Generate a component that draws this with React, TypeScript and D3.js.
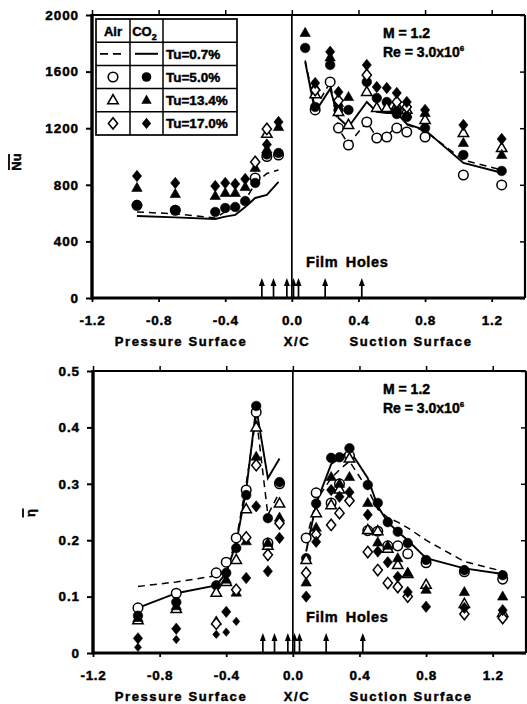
import React, { useRef, useEffect } from "react";
import * as d3 from "d3";

// measurement stations, X/C
const pressureX = [-0.93, -0.7, -0.46, -0.4, -0.34, -0.28, -0.22, -0.15, -0.08];
const suctionX = [0.08, 0.14, 0.23, 0.28, 0.34, 0.45, 0.51, 0.57, 0.63, 0.69, 0.8, 1.03, 1.26];
const filmHoleX = [-0.18, -0.11, -0.03, 0.01, 0.04, 0.2, 0.42];
const xTicks = [-1.2, -0.8, -0.4, 0.0, 0.4, 0.8, 1.2];
const nuTicks = [0, 400, 800, 1200, 1600, 2000];
const etaTicks = [0, 0.1, 0.2, 0.3, 0.4, 0.5];
const tuLabels = ["Tu=0.7%", "Tu=5.0%", "Tu=13.4%", "Tu=17.0%"];

// ---- Nu (top) ----
const nuAir07PS = [608, 595, 565, 610, 640, 690, 810, 880, 905];
const nuCo207PS = [580, 570, 558, 575, 587, 643, 707, 728, 820];
const nuAir07SS = [1680, 1340, 1525, 1200, 1085, 1245, 1135, 1140, 1220, 1225, 1180, 975, 905];
const nuCo207SS = [1670, 1315, 1478, 1272, 1208, 1385, 1315, 1307, 1307, 1230, 1187, 954, 885];

const nuAir5PS = [655, 620, null, null, null, null, 848, 1000, 1010];
const nuCo25PS = [657, 622, 608, 636, 643, 685, 813, 1015, 1025];
const nuAir13PS = [null, null, null, null, null, null, null, 1160, null];
const nuCo213PS = [778, 735, 721, 742, 742, 784, 919, 1050, 1208];
const nuAir17PS = [null, null, null, null, null, null, 961, 1195, null];
const nuCo217PS = [862, 813, 791, 813, 806, 841, null, 1085, 1244];

const nuAir5SS = [null, 1329, 1527, 1201, 1081, 1244, 1131, 1138, 1201, 1173, 1138, 869, 799];
const nuCo25SS = [1767, 1350, 1647, 1329, 1329, 1527, 1413, 1385, 1300, 1279, 1201, 1011, 898];
const nuAir13SS = [null, 1440, null, 1315, 1223, 1456, 1343, 1343, 1360, 1330, 1258, 1166, 1060];
const nuCo213SS = [1873, 1491, 1700, 1378, 1420, null, null, null, 1343, 1300, 1307, 1095, 1011];
const nuAir17SS = [null, 1470, null, 1395, null, 1576, null, null, 1385, 1350, null, null, null];
const nuCo217SS = [null, 1519, 1740, 1456, null, 1647, 1491, 1484, 1449, 1385, 1329, 1223, 1124];

// ---- effectiveness (bottom) ----
const etaAir07PS = [0.118, 0.126, 0.137, 0.148, 0.2, 0.3, 0.42, 0.245, 0.285];
const etaCo207PS = [0.08, 0.106, 0.12, 0.142, 0.195, 0.289, 0.435, 0.31, 0.345];
const etaAir07SS = [0.2, 0.27, 0.31, 0.325, 0.34, 0.29, 0.255, 0.24, 0.232, 0.222, 0.2, 0.162, 0.145];
const etaCo207SS = [0.18, 0.265, 0.335, 0.345, 0.36, 0.31, 0.26, 0.232, 0.215, 0.2, 0.168, 0.15, 0.14];

const etaAir5PS = [0.08, 0.106, 0.142, 0.161, 0.204, 0.289, 0.427, 0.195, 0.3];
const etaCo25PS = [0.066, 0.09, 0.12, 0.142, 0.186, 0.28, 0.438, 0.239, 0.303];
const etaAir13PS = [0.058, 0.078, 0.107, 0.126, 0.165, 0.255, 0.4, 0.19, 0.265];
const etaCo213PS = [0.062, 0.083, 0.056, 0.13, 0.107, 0.198, 0.348, 0.195, 0.24];
const etaAir17PS = [null, null, 0.052, null, 0.112, 0.205, 0.333, 0.174, 0.23];
const etaCo217PS = [0.026, 0.043, null, 0.073, null, 0.133, 0.26, 0.145, 0.204];
const etaCo217LowPS = [0.01, 0.024, 0.033, 0.037, 0.056, null, null, null, null];

const etaAir5SS = [0.204, 0.284, 0.266, 0.3, 0.35, 0.217, 0.216, 0.19, 0.19, 0.176, 0.16, 0.144, 0.131];
const etaCo25SS = [0.168, 0.265, 0.346, 0.347, 0.363, 0.298, 0.266, 0.232, 0.215, 0.195, 0.165, 0.147, 0.138];
const etaAir13SS = [0.165, 0.248, 0.262, 0.29, 0.345, 0.218, 0.216, 0.185, 0.156, 0.14, 0.121, 0.087, 0.071];
const etaCo213SS = [0.125, 0.222, 0.312, 0.3, 0.312, 0.266, 0.196, 0.19, 0.168, 0.142, 0.112, 0.108, 0.1];
const etaAir17SS = [0.142, 0.21, 0.227, 0.248, 0.27, 0.179, 0.147, 0.124, 0.117, 0.1, null, 0.069, 0.062];
const etaCo217SS = [0.1, 0.197, 0.289, 0.277, 0.285, 0.245, 0.18, 0.161, 0.135, 0.108, 0.082, 0.08, 0.076];

const FONT = "'Liberation Sans', Arial, Helvetica, sans-serif";
const HEAVY = 0.45; // extra stroke on text, the scan prints very heavy

const triangle = {
  draw(ctx: any) {
    ctx.moveTo(0, -5.6);
    ctx.lineTo(5.2, 3.5);
    ctx.lineTo(-5.2, 3.5);
    ctx.closePath();
  },
};
const diamond = {
  draw(ctx: any) {
    ctx.moveTo(0, -5.7);
    ctx.lineTo(4.6, 0);
    ctx.lineTo(0, 5.7);
    ctx.lineTo(-4.6, 0);
    ctx.closePath();
  },
};
const smallDiamond = {
  draw(ctx: any) {
    ctx.moveTo(0, -4.2);
    ctx.lineTo(3.5, 0);
    ctx.lineTo(0, 4.2);
    ctx.lineTo(-3.5, 0);
    ctx.closePath();
  },
};
const circle = d3.symbolCircle;

const sym = (type: any) => d3.symbol().type(type).size(72)() as string;

const heavy = (sel: any) => sel.attr("stroke", "#000").attr("stroke-width", HEAVY);

const drawPanel = (root: any, p: any) => {
  const g = root.append("g");
  const x = d3.scaleLinear().domain([-1.2, 1.4]).range([p.left, p.right]);
  const y = d3.scaleLinear().domain(p.yDomain).range([p.bottom, p.top]);

  // y axis (outward ticks)
  const ya = g
    .append("g")
    .attr("transform", `translate(${p.left},0)`)
    .call(d3.axisLeft(y).tickValues(p.yTicks).tickSize(6).tickPadding(7).tickFormat(p.yFmt));
  ya.select(".domain").remove();
  ya.selectAll("line").attr("stroke-width", 2);
  ya.selectAll("text")
    .attr("font-family", FONT)
    .attr("font-weight", "bold")
    .attr("font-size", 13.5)
    .attr("letter-spacing", 0.9)
    .attr("fill", "#000")
    .call(heavy);

  // right side inward ticks
  const ra = g
    .append("g")
    .attr("transform", `translate(${p.right},0)`)
    .call(d3.axisLeft(y).tickValues(p.yTicks).tickSize(5).tickFormat(() => ""));
  ra.select(".domain").remove();
  ra.selectAll("line").attr("stroke-width", 1.5);

  // x axis
  const xa = g
    .append("g")
    .attr("transform", `translate(0,${p.bottom})`)
    .call(d3.axisBottom(x).tickValues(xTicks).tickSize(4).tickFormat((d: any) => d.toFixed(1)));
  xa.select(".domain").remove();
  xa.selectAll("line").attr("stroke-width", 1.8);
  xa.selectAll("text")
    .attr("y", 27)
    .attr("dy", null)
    .attr("font-family", FONT)
    .attr("font-weight", "bold")
    .attr("font-size", 13.5)
    .attr("letter-spacing", 0.7)
    .attr("fill", "#000")
    .call(heavy);

  const ta = g
    .append("g")
    .attr("transform", `translate(0,${p.top})`)
    .call(d3.axisTop(x).tickValues(xTicks).tickSize(5).tickFormat(() => ""));
  ta.select(".domain").remove();
  ta.selectAll("line").attr("stroke-width", 1.5);

  // frame
  const frame = (x1: number, y1: number, x2: number, y2: number, w: number) =>
    g.append("line").attr("x1", x1).attr("y1", y1).attr("x2", x2).attr("y2", y2).attr("stroke", "#000").attr("stroke-width", w);
  frame(p.left, p.top, p.right, p.top, 2.2);
  frame(p.right, p.top, p.right, p.bottom, 2.2);
  frame(p.left, p.bottom, p.right, p.bottom, 3.2);
  frame(p.left, p.top - 1, p.left, p.bottom + 1.5, 3.4);
  frame(x(0), p.top, x(0), p.bottom, 1.7);

  // axis titles
  const title = (tx: number, s: string) =>
    g.append("text")
      .attr("x", tx)
      .attr("y", p.bottom + 48)
      .attr("text-anchor", "middle")
      .attr("font-family", FONT)
      .attr("font-weight", "bold")
      .attr("font-size", 13)
      .attr("letter-spacing", 1.6)
      .call(heavy)
      .text(s);
  title(181, "Pressure Surface");
  title(297, "X/C");
  title(411, "Suction Surface");

  // y label with overbar
  const yl = g.append("g").attr("transform", `translate(${p.ylabelX},${p.ylabelY}) rotate(-90)`);
  yl.append("text")
    .attr("text-anchor", "middle")
    .attr("font-family", FONT)
    .attr("font-weight", "bold")
    .attr("font-size", 13)
    .call(heavy)
    .text(p.ylabel);
  yl.append("line")
    .attr("x1", -p.ylabelW / 2)
    .attr("x2", p.ylabelW / 2)
    .attr("y1", -12)
    .attr("y2", -12)
    .attr("stroke", "#000")
    .attr("stroke-width", 1.8);

  // lines
  const line = d3
    .line<any>()
    .defined((d) => d[1] != null)
    .x((d) => x(d[0]))
    .y((d) => y(d[1]));
  p.lines.forEach((l: any) => {
    [
      [pressureX, l.ps],
      [suctionX, l.ss],
    ].forEach(([xs, vs]: any) => {
      g.append("path")
        .attr("d", line(xs.map((xv: number, i: number) => [xv, vs[i]])))
        .attr("fill", "none")
        .attr("stroke", "#000")
        .attr("stroke-width", l.dash ? 1.5 : 1.9)
        .attr("stroke-dasharray", l.dash ? "7,5" : null);
    });
  });

  // markers
  p.series.forEach((s: any) => {
    const pts = [
      ...pressureX.map((xv, i) => [xv, s.ps ? s.ps[i] : null]),
      ...suctionX.map((xv, i) => [xv, s.ss ? s.ss[i] : null]),
    ].filter((d) => d[1] != null);
    g.append("g")
      .selectAll("path")
      .data(pts)
      .join("path")
      .attr("d", sym(s.type))
      .attr("transform", (d: any) => `translate(${x(d[0])},${y(d[1])})`)
      .attr("fill", s.filled ? "#000" : "#fff")
      .attr("stroke", "#000")
      .attr("stroke-width", s.filled ? 0.6 : 1.5);
  });

  // film hole arrows
  const ag = g.append("g");
  filmHoleX.forEach((fx) => {
    const ax = x(fx);
    ag.append("line")
      .attr("x1", ax)
      .attr("x2", ax)
      .attr("y1", p.bottom)
      .attr("y2", p.bottom - 14)
      .attr("stroke", "#000")
      .attr("stroke-width", 1.7);
    ag.append("path")
      .attr("d", `M${ax - 3},${p.bottom - 12} L${ax},${p.bottom - 20} L${ax + 3},${p.bottom - 12} Z`)
      .attr("fill", "#000");
  });
  g.append("text")
    .attr("x", 306)
    .attr("y", p.bottom - 31)
    .attr("font-family", FONT)
    .attr("font-weight", "bold")
    .attr("font-size", 14.5)
    .attr("letter-spacing", 0.6)
    .attr("word-spacing", 3)
    .call(heavy)
    .text("Film Holes");

  // flow conditions
  const cond = g
    .append("g")
    .attr("font-family", FONT)
    .attr("font-weight", "bold")
    .attr("font-size", 14)
    .call(heavy);
  cond.append("text").attr("x", 383).attr("y", p.top + 23).text("M = 1.2");
  const re = cond.append("text").attr("x", 383).attr("y", p.top + 42);
  re.append("tspan").text("Re = 3.0x10");
  re.append("tspan").attr("dy", -6).attr("font-size", 8).text("6");

  return g;
};

const drawLegend = (root: any) => {
  const lg = root.append("g").attr("font-family", FONT);
  const L = 96,
    T = 19,
    R = 237,
    B = 135;
  const cols = [L, 130, 163, R];
  const rows = d3.range(6).map((i) => T + (i * (B - T)) / 5);
  lg.append("rect")
    .attr("x", L)
    .attr("y", T)
    .attr("width", R - L)
    .attr("height", B - T)
    .attr("fill", "#fff")
    .attr("stroke", "#000")
    .attr("stroke-width", 1.7);
  cols.slice(1, 3).forEach((cx) =>
    lg.append("line").attr("x1", cx).attr("x2", cx).attr("y1", T).attr("y2", B).attr("stroke", "#000").attr("stroke-width", 1.5)
  );
  rows.slice(1, 5).forEach((ry) =>
    lg.append("line").attr("x1", L).attr("x2", R).attr("y1", ry).attr("y2", ry).attr("stroke", "#000").attr("stroke-width", 1.5)
  );
  const c1 = (cols[0] + cols[1]) / 2;
  const c2 = (cols[1] + cols[2]) / 2;
  const rc = (i: number) => (rows[i] + rows[i + 1]) / 2;
  lg.append("text").attr("x", c1).attr("y", rc(0) + 5).attr("text-anchor", "middle").attr("font-weight", "bold").attr("font-size", 13).call(heavy).text("Air");
  const co = lg
    .append("text")
    .attr("x", c2 - 2)
    .attr("y", rc(0) + 5)
    .attr("text-anchor", "middle")
    .attr("font-weight", "bold")
    .attr("font-size", 13)
    .call(heavy);
  co.append("tspan").text("CO");
  co.append("tspan").attr("dy", 4).attr("font-size", 9).text("2");

  lg.append("line").attr("x1", L + 4).attr("x2", cols[1] - 4).attr("y1", rc(1)).attr("y2", rc(1)).attr("stroke", "#000").attr("stroke-width", 1.7).attr("stroke-dasharray", "8,5");
  lg.append("line").attr("x1", cols[1] + 5).attr("x2", cols[2] - 5).attr("y1", rc(1)).attr("y2", rc(1)).attr("stroke", "#000").attr("stroke-width", 2);

  [circle, triangle, diamond].forEach((t, i) => {
    lg.append("path").attr("d", sym(t)).attr("transform", `translate(${c1},${rc(i + 2)})`).attr("fill", "#fff").attr("stroke", "#000").attr("stroke-width", 1.6);
    lg.append("path").attr("d", sym(t)).attr("transform", `translate(${c2},${rc(i + 2)})`).attr("fill", "#000");
  });
  tuLabels.forEach((t, i) =>
    lg.append("text").attr("x", 166).attr("y", rc(i + 1) + 5).attr("font-weight", "bold").attr("font-size", 13.5).call(heavy).text(t)
  );
};

const App = () => {
  const svgRef = useRef<SVGSVGElement>(null);

  useEffect(() => {
    const svg = d3.select(svgRef.current);
    svg.selectAll("*").remove();

    drawPanel(svg, {
      left: 92,
      right: 525,
      top: 15,
      bottom: 298,
      yDomain: [0, 2000],
      yTicks: nuTicks,
      yFmt: (d: any) => String(d),
      ylabel: "Nu",
      ylabelW: 16,
      ylabelX: 21,
      ylabelY: 162,
      lines: [
        { dash: true, ps: nuAir07PS, ss: nuAir07SS },
        { dash: false, ps: nuCo207PS, ss: nuCo207SS },
      ],
      series: [
        { type: circle, filled: false, ps: nuAir5PS, ss: nuAir5SS },
        { type: circle, filled: true, ps: nuCo25PS, ss: nuCo25SS },
        { type: triangle, filled: false, ps: nuAir13PS, ss: nuAir13SS },
        { type: triangle, filled: true, ps: nuCo213PS, ss: nuCo213SS },
        { type: diamond, filled: false, ps: nuAir17PS, ss: nuAir17SS },
        { type: diamond, filled: true, ps: nuCo217PS, ss: nuCo217SS },
      ],
    });
    drawLegend(svg);

    drawPanel(svg, {
      left: 93,
      right: 526,
      top: 371,
      bottom: 653,
      yDomain: [0, 0.5],
      yTicks: etaTicks,
      yFmt: (d: any) => (d === 0 ? "0" : d.toFixed(1)),
      ylabel: "η",
      ylabelW: 9,
      ylabelX: 35,
      ylabelY: 513,
      lines: [
        { dash: true, ps: etaAir07PS, ss: etaAir07SS },
        { dash: false, ps: etaCo207PS, ss: etaCo207SS },
      ],
      series: [
        { type: circle, filled: false, ps: etaAir5PS, ss: etaAir5SS },
        { type: circle, filled: true, ps: etaCo25PS, ss: etaCo25SS },
        { type: triangle, filled: false, ps: etaAir13PS, ss: etaAir13SS },
        { type: triangle, filled: true, ps: etaCo213PS, ss: etaCo213SS },
        { type: diamond, filled: false, ps: etaAir17PS, ss: etaAir17SS },
        { type: diamond, filled: true, ps: etaCo217PS, ss: etaCo217SS },
        { type: smallDiamond, filled: true, ps: etaCo217LowPS, ss: null },
      ],
    });
  }, []);

  return (
    <svg
      ref={svgRef}
      width={527}
      height={704}
      style={{ position: "absolute", left: 0, top: 0, background: "#fff", display: "block" }}
    />
  );
};

export default App;
